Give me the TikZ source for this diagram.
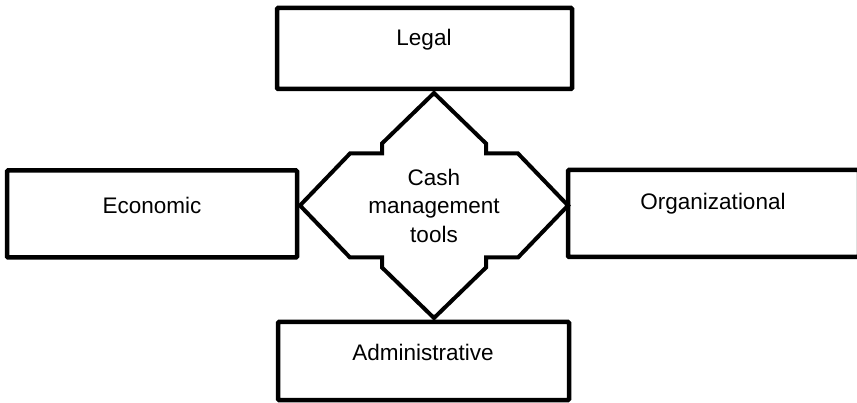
\documentclass[tikz,border=0pt]{standalone}
\usepackage{fontspec}
\setmainfont{Liberation Sans}
\begin{document}
\begin{tikzpicture}[x=1pt,y=-1pt,
  box/.style={draw=black, line width=4.5pt, rounded corners=1pt, inner sep=0pt},
  lbl/.style={font=\fontsize{22.5}{27}\selectfont},
  star/.style={draw=black, line width=4pt, fill=white, line join=miter}]
\useasboundingbox (0,0) rectangle (857,403);
% boxes
\node[box, minimum width=295pt, minimum height=81pt] (legal) at (424.5,48.5) {};
\node[lbl] (legalt) at (424,40) {Legal};
\node[box, minimum width=291pt, minimum height=78pt] (admin) at (423.5,361) {};
\node[lbl] (admint) at (423,352) {Administrative};
\node[box, minimum width=290pt, minimum height=87pt] (econ) at (152,214) {};
\node[lbl] (econt) at (152,205) {Economic};
\node[box, minimum width=291pt, minimum height=87pt] (org) at (713.5,213.5) {};
\node[lbl] (orgt) at (713,204) {Organizational};
% central shape
\coordinate (c) at (434,205.5);
\draw[star] ([shift={(0,-112.5)}]c)
  -- ([shift={(52,-62)}]c) -- ([shift={(52,-52)}]c) -- ([shift={(84,-52)}]c)
  -- ([shift={(134,0)}]c)
  -- ([shift={(84,52)}]c) -- ([shift={(52,52)}]c) -- ([shift={(52,62)}]c)
  -- ([shift={(0,112.5)}]c)
  -- ([shift={(-52,62)}]c) -- ([shift={(-52,52)}]c) -- ([shift={(-84,52)}]c)
  -- ([shift={(-134,0)}]c)
  -- ([shift={(-84,-52)}]c) -- ([shift={(-52,-52)}]c) -- ([shift={(-52,-62)}]c)
  -- cycle;
\node[align=center, font=\fontsize{22.5}{28.5}\selectfont] (tools) at (c) {Cash\\management\\tools};
\end{tikzpicture}
\end{document}
